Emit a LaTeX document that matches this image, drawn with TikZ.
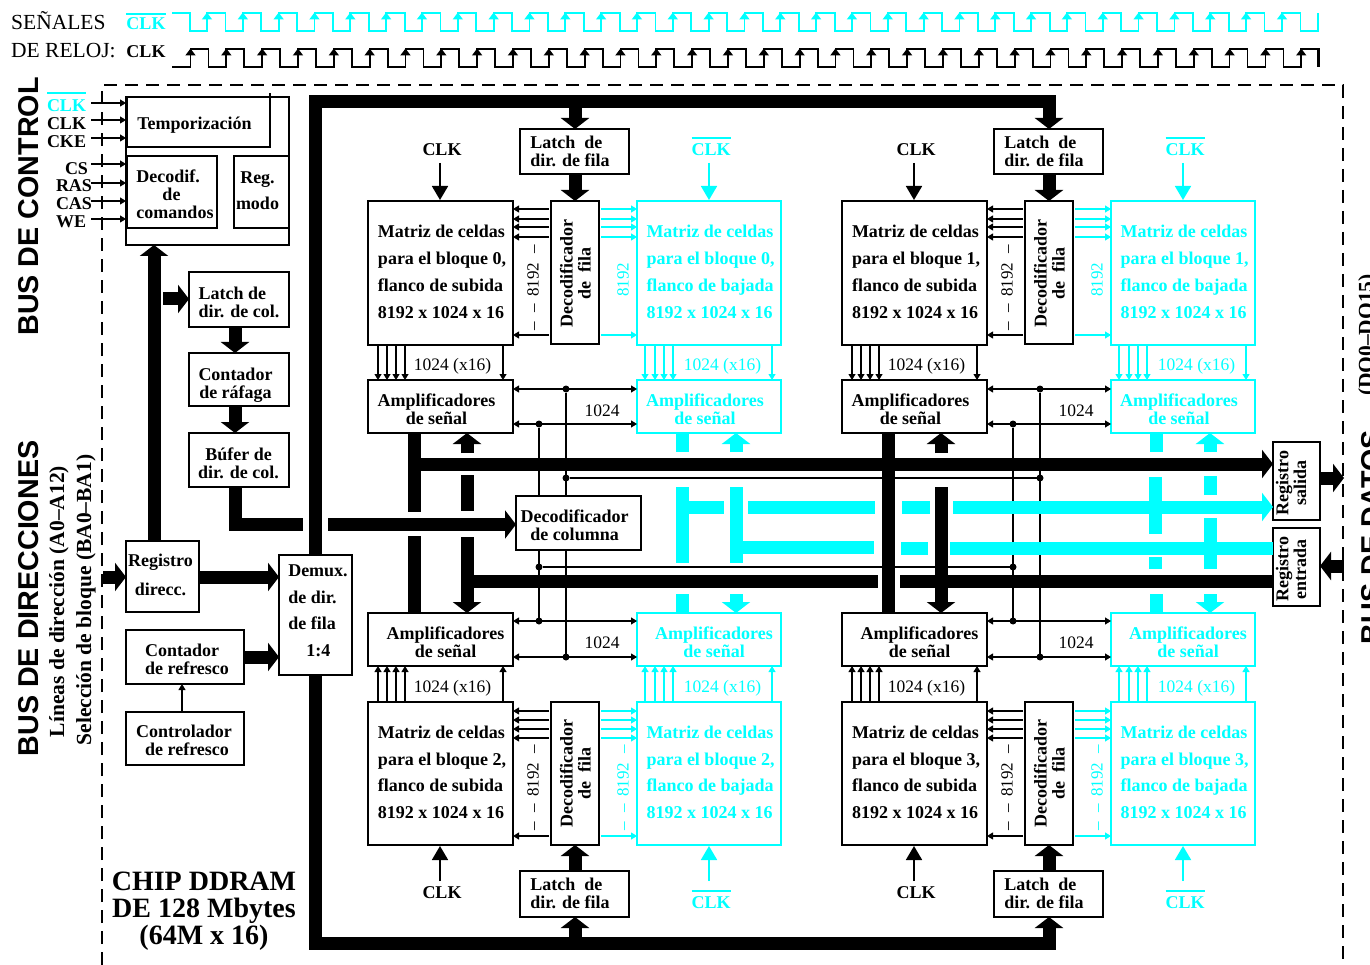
\documentclass[tikz,border=0pt]{standalone}
\usepackage{fontspec}
\usepackage{graphicx}
\setmainfont{Liberation Serif}
\newfontfamily\sansf{Liberation Sans}
\usetikzlibrary{arrows.meta,calc}
\definecolor{cy}{HTML}{00FFFF}
\setlength{\tabcolsep}{0pt}
\newcommand\Tx[5][c]{\raisebox{\dimexpr-4.5pt-(#3pt)\relax}[0pt][0pt]{\makebox[0pt][c]{\hspace*{\dimexpr2\dimexpr#2pt\relax\relax}\fontsize{18}{#4}\selectfont\begin{tabular}{@{}#1@{}}#5\end{tabular}}}}
\newcommand\TxR[5][c]{\raisebox{\dimexpr-4.5pt-(#3pt)\relax}[0pt][0pt]{\makebox[0pt][c]{\hspace*{\dimexpr2\dimexpr#2pt\relax\relax}\rotatebox[origin=c]{90}{\fontsize{18}{#4}\selectfont\begin{tabular}{@{}#1@{}}#5\end{tabular}}}}}
\newcommand\Ov[2]{\vbox{\hrule height 1.8pt \kern#1pt\hbox{#2}}}
\newcommand\Bx[7][box]{\node[#1,minimum width={(#5)-(#3)},minimum height={(#6)-(#4)}] (#2) at ({((#3)+(#5))/2},{((#4)+(#6))/2}) {#7};}
\tikzset{
  box/.style={draw,line width=1.8pt,fill=white,inner sep=0pt,outer sep=0pt,font=\bfseries},
  cbox/.style={box,draw=cy,text=cy},
  ibox/.style={box,line width=1.2pt},
  lab/.style={inner sep=0pt,outer sep=0pt,font=\fontsize{18}{18}\selectfont\bfseries},
  clab/.style={lab,text=cy},
  num/.style={inner sep=0pt,outer sep=0pt,font=\fontsize{17.5}{18}\selectfont},
  cnum/.style={num,text=cy},
  sig/.style={line width=1.1pt,-{Triangle[length=6pt,width=7pt]}},
  csig/.style={sig,draw=cy,fill=cy},
  both/.style={line width=1.1pt,{Triangle[length=6pt,width=7pt]}-{Triangle[length=6pt,width=7pt]}},
  ck/.style={line width=1.8pt,-{Triangle[length=14pt,width=16pt]},shorten >=1pt},
  cck/.style={ck,draw=cy,fill=cy},
  wire/.style={line width=1.1pt},
  dot/.style={circle,fill=black,inner sep=0pt,outer sep=0pt,minimum size=7pt},
  bus/.style={line width=13pt,line join=miter},
  busa/.style={bus,-{Triangle[length=11pt,width=28pt]}},
  cbus/.style={bus,draw=cy},
  cbusa/.style={busa,draw=cy,fill=cy},
  wave/.style={line width=1.8pt,line join=miter},
  wtip/.style={line width=1.8pt,-{Triangle[length=7pt,width=10pt]}},
  rot/.style={rotate=90,anchor=base}
}
\newcommand\EightK[1]{\rotatebox{90}{\fontsize{17}{18}\selectfont –\kern10pt–\kern7pt 8192\kern9pt–}}
\newcommand\TopBlock[4]{%
  \Bx{m#1}{368+#2}{201}{513+#2}{345}{\Tx[l]{1.5}{-0.5}{26.7}{Matriz de celdas\\para el bloque #3,\\flanco de subida\\8192 x 1024 x 16}}
  \Bx[cbox]{n#1}{637+#2}{201}{781+#2}{345}{\Tx[l]{1.5}{-0.5}{26.7}{Matriz de celdas\\para el bloque #3,\\flanco de bajada\\8192 x 1024 x 16}}
  \Bx{d#1}{551+#2}{201}{599+#2}{344}{\TxR{3}{0.5}{18}{Decodificador\\de\ \ fila}}
  \Bx{l#1}{520+#2}{129}{629+#2}{174}{\Tx[l]{-4.5}{2}{17}{Latch\ \ de\\dir. de fila}}
  \Bx{a#1}{368+#2}{380}{513+#2}{433}{\Tx{-4}{5}{17.5}{Amplificadores\\de señal}}
  \Bx[cbox]{b#1}{637+#2}{380}{781+#2}{433}{\Tx{-4}{5}{17.5}{Amplificadores\\de señal}}
  \node[lab,anchor=base] (ck#1) at (442+#2,156) {CLK};
  \node[clab,anchor=base] (cc#1) at (711+#2,156) {\Ov{5}{CLK}};
  \coordinate (ks#1) at (440+#2,163); \coordinate (cs#1) at (709+#2,163);
  \draw[ck] (ks#1) -- (m#1.north -| ks#1);
  \draw[cck] (cs#1) -- (n#1.north -| cs#1);
  \foreach \y in {209,219,227,237,335} {
    \draw[sig,shorten <=2pt] (d#1.west |- 0,\y) -- (m#1.east |- 0,\y);
    \draw[csig,shorten <=2pt] (d#1.east |- 0,\y) -- (n#1.west |- 0,\y);
  }
  \foreach \x in {378,387,396,405,503} \draw[sig] (m#1.south -| \x+#2,0) -- (a#1.north -| \x+#2,0);
  \foreach \x in {645,655,664,673,772} \draw[csig] (n#1.south -| \x+#2,0) -- (b#1.north -| \x+#2,0);
  \node[num] (tx#1) at (452.5+#2,366) {1024 (x16)};
  \node[cnum] (ty#1) at (722.5+#2,366) {1024 (x16)};
  \node[num] (tz#1) at (602+#2,411) {1024};
  \node[num] (e#1) at (533+#2,288) {\EightK{}};
  \node[cnum] (f#1) at (623+#2,280) {\rotatebox{90}{\fontsize{17}{18}\selectfont 8192}};
  \draw[both] (a#1.east |- 0,389) -- (b#1.west |- 0,389);
  \draw[both] (a#1.east |- 0,424) -- (b#1.west |- 0,424);
}
\newcommand\BotBlock[3]{%
  \Bx{m#1}{368+#2}{702}{513+#2}{845}{\Tx[l]{1.5}{-0.5}{26.7}{Matriz de celdas\\para el bloque #3,\\flanco de subida\\8192 x 1024 x 16}}
  \Bx[cbox]{n#1}{637+#2}{702}{781+#2}{845}{\Tx[l]{1.5}{-0.5}{26.7}{Matriz de celdas\\para el bloque #3,\\flanco de bajada\\8192 x 1024 x 16}}
  \Bx{d#1}{551+#2}{702}{599+#2}{845}{\TxR{3}{0}{18}{Decodificador\\de\ \ fila}}
  \Bx{l#1}{520+#2}{871}{629+#2}{917}{\Tx[l]{-4.5}{2}{17}{Latch\ \ de\\dir. de fila}}
  \Bx{a#1}{368+#2}{613}{513+#2}{666}{\Tx{5}{5}{17.5}{Amplificadores\\de señal}}
  \Bx[cbox]{b#1}{637+#2}{613}{781+#2}{666}{\Tx{5}{5}{17.5}{Amplificadores\\de señal}}
  \node[lab,anchor=base] (ck#1) at (442+#2,898) {CLK};
  \node[clab,anchor=base] (cc#1) at (711+#2,908) {\Ov{4}{CLK}};
  \coordinate (ks#1) at (440+#2,881); \coordinate (cs#1) at (709+#2,881);
  \draw[ck] (ks#1) -- (m#1.south -| ks#1);
  \draw[cck] (cs#1) -- (n#1.south -| cs#1);
  \foreach \y in {711,720,729,738,836} {
    \draw[sig,shorten <=2pt] (d#1.west |- 0,\y) -- (m#1.east |- 0,\y);
    \draw[csig,shorten <=2pt] (d#1.east |- 0,\y) -- (n#1.west |- 0,\y);
  }
  \foreach \x in {378,387,396,405,503} \draw[sig] (m#1.north -| \x+#2,0) -- (a#1.south -| \x+#2,0);
  \foreach \x in {645,655,664,673,772} \draw[csig] (n#1.north -| \x+#2,0) -- (b#1.south -| \x+#2,0);
  \node[num] (tx#1) at (452.5+#2,688) {1024 (x16)};
  \node[cnum] (ty#1) at (722.5+#2,688) {1024 (x16)};
  \node[num] (tz#1) at (602+#2,643) {1024};
  \node[num] (e#1) at (533+#2,788) {\EightK{}};
  \node[cnum] (f#1) at (623+#2,788) {\EightK{}};
  \draw[both] (a#1.east |- 0,621) -- (b#1.west |- 0,621);
  \draw[both] (a#1.east |- 0,657) -- (b#1.west |- 0,657);
}
\begin{document}
\begin{tikzpicture}[x=1pt,y=-1pt]
\useasboundingbox (0,0) rectangle (1370,965);
% chip outline
\draw[line width=1.8pt,dash pattern=on 13pt off 8pt] (102,965) -- (102,85) -- (1343,85) -- (1343,965);
% clock signals
\node[anchor=base west,inner sep=0pt,font=\fontsize{21.5}{22}\selectfont] (sen) at (11,30) {SEÑALES};
\node[anchor=base west,inner sep=0pt,font=\fontsize{21.5}{22}\selectfont] (rel) at (11,58) {DE RELOJ:};
\node[clab,anchor=base] (wcn) at (146,30) {\Ov{3}{CLK}};
\node[lab,anchor=base] (wck) at (146,58) {CLK};
\draw[wave,cy] (172,13) -- (190,13) -- (190,31) foreach \k in {0,...,30} { -- ({207+35.83*\k},31) -- ({207+35.83*\k},13) -- ({225.5+35.83*\k},13) -- ({225.5+35.83*\k},31) } -- (1318,31) -- (1318,13);
\foreach \k in {0,...,29} \draw[wtip,cy,fill=cy] ({207+35.83*\k},24) -- ({207+35.83*\k},12.5);
\draw[wtip,cy,fill=cy] (1282,24) -- (1282,12.5);
\draw[wave] (172,67) foreach \k in {0,...,31} { -- ({190.5+35.83*\k},67) -- ({190.5+35.83*\k},49) -- ({208.5+35.83*\k},49) -- ({208.5+35.83*\k},67) } ;
\draw[wave] (1300,49) -- (1318,49) -- (1318,67);
\foreach \k in {0,...,31} \draw[wtip,fill=black] ({190.5+35.83*\k},60) -- ({190.5+35.83*\k},48.5);
% side titles
\node[rot,font=\sansf\bfseries\fontsize{28.7}{30}\selectfont,inner sep=0pt] (bc) at (38,206.5) {BUS DE CONTROL};
\node[rot,font=\sansf\bfseries\fontsize{28.7}{30}\selectfont,inner sep=0pt] (bd) at (38,598.5) {BUS DE DIRECCIONES};
\node[rot,font=\fontsize{21.5}{22}\selectfont\bfseries,inner sep=0pt] (ld) at (64,601.5) {Líneas de dirección (A0–A12)};
\node[rot,font=\fontsize{21.5}{22}\selectfont\bfseries,inner sep=0pt] (sb) at (91,600) {Selección de bloque (BA0–BA1)};
\node[rot,font=\sansf\bfseries\fontsize{28.7}{30}\selectfont,inner sep=0pt] (bda) at (1381,537) {BUS DE DATOS};
\node[rot,font=\fontsize{21.5}{22}\selectfont\bfseries,inner sep=0pt] (dq) at (1373,335) {(DQ0–DQ15)};
% shared data wires
\node[dot] (p1) at (566,389) {}; \node[dot] (p2) at (539,424) {};
\node[dot] (p3) at (539,621) {}; \node[dot] (p4) at (566,657) {};
\node[dot] (p5) at (566,478) {}; \node[dot] (p6) at (539,567) {};
\node[dot] (q1) at (1040,389) {}; \node[dot] (q2) at (1013,424) {};
\node[dot] (q3) at (1013,621) {}; \node[dot] (q4) at (1040,657) {};
\node[dot] (q5) at (1040,478) {}; \node[dot] (q6) at (1013,567) {};
\draw[wire] (p1) -- (p4); \draw[wire] (p2) -- (p3);
\draw[wire] (q1) -- (q4); \draw[wire] (q2) -- (q3);
\draw[wire] (p5) -- (q5); \draw[wire] (p6) -- (q6);
% control block
\Bx{ctl}{126}{97}{289}{245}{}
\Bx[ibox]{tmp}{127}{97}{270}{147}{\Tx{-4}{4}{18}{Temporización}}
\draw[line width=1.2pt] (tmp.north east) -- +(0,-4);
\Bx[ibox]{dec}{127}{156}{217}{228}{\Tx[l]{3}{4.5}{17.5}{Decodif.\\\hspace*{26pt}de\\comandos}}
\Bx[ibox]{reg}{234}{156}{289}{228}{\Tx{-4}{-1}{26}{Reg.\\modo}}
\foreach \n/\y in {a/103,b/120,c/138,d/164,e/183,f/201,g/219} {
  \coordinate (in\n) at (91,\y);
  \draw[sig] (in\n) -- (ctl.west |- in\n);
}
\node[clab,anchor=base west] (i1) at (47,112) {\Ov{6}{CLK}};
\node[lab,anchor=base west] (i2) at (47,130) {CLK};
\node[lab,anchor=base west] (i3) at (47,148) {CKE};
\node[lab,anchor=base west] (i4) at (65,175) {CS};
\node[lab,anchor=base west] (i5) at (56,192) {RAS};
\node[lab,anchor=base west] (i6) at (56,210) {CAS};
\node[lab,anchor=base west] (i7) at (56,228) {WE};
% column path
\Bx{lc}{189}{272}{289}{327}{\Tx[l]{0}{5}{18}{Latch de\\dir. de col.}}
\Bx{cr}{189}{353}{289}{406}{\Tx{-3.5}{6}{18}{Contador\\de ráfaga}}
\Bx{bf}{189}{433}{289}{487}{\Tx{-0.5}{6}{18}{Búfer de\\dir. de col.}}
\Bx{rg}{126}{541}{199}{612}{\Tx{-2}{-1}{29}{Registro\\direcc.}}
\Bx{dm}{279}{555}{352}{675}{\Tx[l]{2.5}{-4}{26.7}{Demux.\\de dir.\\de fila\\\hspace*{18pt}1:4}}
\Bx{cf}{126}{630}{244}{684}{\Tx[l]{2}{5}{18}{Contador\\de refresco}}
\Bx{cl}{126}{712}{244}{765}{\Tx{-1}{4.5}{18}{Controlador\\\hspace*{6pt}de refresco}}
\Bx{dc}{516}{496}{641}{550}{\Tx{-4}{4.5}{18}{Decodificador\\de columna}}
\Bx{rs}{1273}{442}{1320}{520}{\TxR{-3}{2}{17}{Registro\\salida}}
\Bx{re}{1273}{528}{1320}{606}{\TxR{-3}{2}{17}{Registro\\entrada}}
\draw[sig] (cl.north -| 182,0) -- (cf.south -| 182,0);
% blocks
\TopBlock{0}{0}{0}{}
\TopBlock{1}{474}{1}{}
\BotBlock{2}{0}{2}
\BotBlock{3}{474}{3}
% address buses
\draw[bus] (dm.north -| 315,0) -- (315,102) -- (1056,102);
\draw[bus] (dm.south -| 315,0) -- (315,943) -- (1056,943);
\foreach \i/\x in {0/575,1/1049} {
  \draw[busa] (\x,102) -- (l\i.north -| \x,0);
  \draw[busa] (l\i.south -| \x,0) -- (d\i.north -| \x,0);
}
\foreach \i/\x in {2/575,3/1049} {
  \draw[busa] (\x,943) -- (l\i.south -| \x,0);
  \draw[busa] (l\i.north -| \x,0) -- (d\i.south -| \x,0);
}
\coordinate (addr) at (103,577);
\coordinate (dout) at (1344,478);
\coordinate (din) at (1344,566);
\coordinate (lci) at (163,299);
\draw[busa] (addr) -- (rg.west |- addr);
\draw[busa] (rg.east |- addr) -- (dm.west |- addr);
\draw[busa] (rg.north -| 154,0) -- (ctl.south -| 154,0);
\draw[busa] (cf.east |- 0,657) -- (dm.west |- 0,657);
\draw[busa] (lci) -- (lc.west |- lci);
\draw[busa] (lc.south -| 235,0) -- (cr.north -| 235,0);
\draw[busa] (cr.south -| 235,0) -- (bf.north -| 235,0);
\draw[bus] (bf.south -| 235,0) -- (235,524.5) -- (303,524.5);
\draw[busa] (328,524.5) -- (dc.west |- 0,524.5);
\draw[busa] (rs.east |- dout) -- (dout);
\draw[busa] (din) -- (re.east |- din);
% black data buses
\draw[bus] (a0.south -| 414,0) -- (414,512);
\draw[bus] (414,536) -- (a2.north -| 414,0);
\draw[bus] (a1.south -| 888,0) -- (a3.north -| 888,0);
\draw[busa] (414,464) -- (rs.west |- 0,464);
\draw[busa] (467,453) -- (a0.south -| 467,0);
\draw[bus] (467,475) -- (467,511);
\draw[busa] (467,537) -- (a2.north -| 467,0);
\draw[bus] (467,581.5) -- (878,581.5);
\draw[bus] (900,581.5) -- (re.west |- 0,581.5);
\draw[busa] (941,453) -- (a1.south -| 941,0);
\draw[busa] (941,487) -- (a3.north -| 941,0);
% cyan data buses
\foreach \i/\x in {0/0,1/474} {
  \draw[cbus] (b\i.south -| 682.5+\x,0) -- (682.5+\x,452);
  \draw[cbusa] (736+\x,452) -- (b\i.south -| 736+\x,0);
}
\foreach \i/\x in {2/0,3/474} {
  \draw[cbus] (682.5+\x,594) -- (b\i.north -| 682.5+\x,0);
  \draw[cbusa] (736+\x,594) -- (b\i.north -| 736+\x,0);
}
\draw[cbus] (682.5,487) -- (682.5,563);
\draw[cbus] (736,487) -- (736,563);
\draw[cbus] (682.5,507) -- (724,507);
\draw[cbus] (736,547) -- (874,547);
\draw[cbus] (748,507) -- (875,507);
\draw[cbus] (902,507) -- (930,507);
\draw[cbusa] (953,507) -- (rs.west |- 0,507);
\draw[cbus] (901,548) -- (928,548);
\draw[cbus] (950,548) -- (re.west |- 0,548);
\draw[cbus] (1155,477) -- (1155,534);
\draw[cbus] (1155,557) -- (1155,569);
\draw[cbus] (1210.5,476) -- (1210.5,495);
\draw[cbus] (1210.5,518) -- (1210.5,569);
% title
\node[inner sep=0pt,align=center,font=\fontsize{28}{27}\selectfont\bfseries] (chip) at (204,911) {CHIP DDRAM\\DE 128 Mbytes\\(64M x 16)};
\end{tikzpicture}
\end{document}
